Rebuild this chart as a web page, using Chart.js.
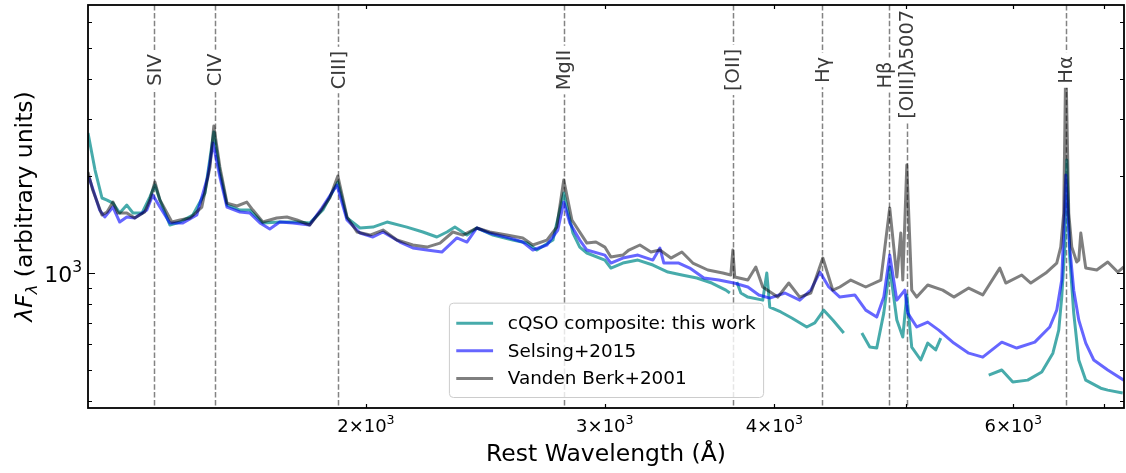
<!DOCTYPE html>
<html><head><meta charset="utf-8">
<script src="https://cdn.jsdelivr.net/npm/chart.js@4.4.1/dist/chart.umd.min.js"></script>
<style>html,body{margin:0;padding:0;background:#fff;}canvas{display:block;}</style>
</head><body>
<canvas id="c" width="1126" height="473"></canvas>
<script>
// ---- data (rest wavelength in Å, lambda*F_lambda in arbitrary units) ----
const cqsoWave = [1248,1263,1278,1289,1302,1317,1333,1347,1368,1386,1398,1410,1434,1459,1491,1522,1545,1561,1580,1615,1642,1679,1728,1779,1818,1859,1907,1937,1980,2024,2073,2144,2203,2256,2295,2326,2374,2414,2481,2566,2628,2673,2747,2798,2842,2875,2910,3000,3031,3093,3173,3255,3339,3419,3507,3597,3684,3709,3730,3753,3779,3824,3922,3949,3969,4044,4120,4226,4284,4350,4417,4500,4570,4640,4703,4759,4816,4865,4924,4974,5008,5050,5128,5189,5260,5305,5500,5755,5884,5995,6149,6297,6417,6481,6514,6548,6570,6603,6648,6705,6785,6960,7043,7224];
const cqsoFlux = [2721,2088,1710,1685,1649,1536,1626,1536,1536,1722,1876,1685,1410,1440,1514,1772,2741,2059,1626,1569,1569,1430,1440,1440,1430,1569,1917,1482,1380,1389,1440,1389,1341,1294,1341,1389,1312,1380,1312,1266,1239,1179,1266,1772,1331,1204,1154,1097,1036,1074,1097,1059,1007,986,965,931,885,867,null,938,867,842,824,1000,784,757,725,680,700,767,715,651,null,651,589,585,751,1044,715,633,855,589,537,606,577,628,null,482,500,459,465,493,564,665,842,1204,2243,1121,751,537,465,439,433,424];

const selsingWave = [1248,1252,1273,1284,1302,1317,1333,1351,1379,1393,1410,1434,1466,1501,1529,1543,1561,1580,1615,1642,1671,1699,1728,1767,1818,1856,1904,1937,1980,2024,2059,2119,2166,2218,2275,2334,2374,2414,2468,2553,2610,2655,2719,2770,2798,2827,2875,2910,3000,3031,3093,3173,3255,3294,3316,3401,3465,3549,3640,3734,3824,3896,3969,4072,4176,4255,4321,4387,4470,4585,4671,4759,4816,4865,4924,4991,5016,5093,5189,5287,5424,5563,5697,5884,6035,6223,6383,6459,6514,6536,6559,6603,6648,6705,6785,6878,7043,7237];
const selsingFlux = [2001,1945,1569,1493,1603,1440,1493,1482,1569,1747,1603,1430,1430,1514,1987,2533,1987,1603,1547,1536,1430,1370,1440,1430,1410,1592,1876,1461,1331,1294,1341,1248,1196,1179,1162,1285,1248,1380,1331,1285,1248,1179,1222,1360,1661,1430,1266,1179,1137,1074,1113,1137,1097,1196,1074,1074,1036,965,951,931,905,855,836,867,824,885,1007,905,842,855,767,730,842,1137,824,885,751,680,704,665,606,564,548,610,585,610,680,767,951,1360,2015,1204,885,715,606,537,500,465];

const vdbWave = [1248,1258,1278,1289,1302,1313,1333,1351,1374,1386,1398,1410,1439,1459,1484,1514,1535,1545,1561,1580,1607,1634,1651,1679,1719,1749,1779,1818,1850,1881,1907,1937,1970,2014,2059,2108,2166,2218,2268,2318,2358,2414,2468,2540,2610,2655,2719,2765,2798,2837,2910,2955,3000,3031,3093,3125,3184,3244,3294,3356,3419,3483,3573,3665,3715,3728,3740,3824,3876,3922,4023,4099,4176,4255,4343,4417,4470,4554,4671,4792,4865,4924,4957,4974,5008,5050,5093,5189,5323,5424,5563,5697,5864,5924,6087,6181,6340,6459,6503,6536,6559,6592,6626,6682,6705,6728,6785,6913,7043,7163,7237];
const vdbFlux = [2059,1810,1514,1547,1661,1536,1536,1482,1547,1685,1917,1685,1440,1461,1482,1603,2134,2860,2134,1649,1615,1661,1569,1440,1482,1493,1461,1410,1547,1710,2001,1493,1341,1312,1360,1266,1222,1204,1239,1341,1312,1380,1341,1312,1285,1222,1266,1389,1945,1461,1239,1248,1204,1121,1137,1179,1222,1162,1179,1113,1162,1074,1022,1000,986,1179,972,951,1044,905,842,931,842,867,1113,885,905,951,905,951,1592,972,1331,951,2165,885,842,918,885,842,898,855,1036,931,986,931,1000,1074,1204,1536,4652,1536,1204,1082,1097,1331,1036,1022,1082,1007,1044];

const seriesNames = ['cQSO composite: this work','Selsing+2015','Vanden Berk+2001'];

const lineWaves = [1397,1549,1909,2798,3727,4340,4861,5007,6563];
const lineNames = ['SIV','CIV','CIII]','MgII','[OII]','Hγ','Hβ','[OIII]λ5007','Hα'];
const labelWaves = [1397,1549,1909,2798,3727,4340,4825,5007,6563];
const labelFlux  = [4270,4270,4270,4270,4270,4270,4120,4450,4270];

const xTicks = [2000,3000,4000,5000,6000,7000];
const xTickLabels = ['2','3','4','','6',''];
const yTicks = [400,500,600,700,800,900,1000,2000,3000,4000,5000,6000];
const yMajor = [1000];
const xMin = 1248, xMax = 7240, yMin = 381, yMax = 6797;

// ---- styles ----
const FONT = "'DejaVu Sans', 'Liberation Sans', sans-serif";
const colors = ['rgba(0,139,139,0.72)','rgba(0,0,255,0.6)','rgba(0,0,0,0.5)'];

function pts(w, f){ return w.map((x,i)=>({x:x, y:f[i]})); }

const overlay = {
  id:'overlay',
  beforeDatasetsDraw(chart){
    const {ctx, chartArea:a, scales:{x,y}} = chart;
    ctx.save();
    ctx.beginPath(); ctx.rect(a.left,a.top,a.right-a.left,a.bottom-a.top); ctx.clip();
    ctx.strokeStyle = 'rgba(90,90,90,0.75)';
    ctx.lineWidth = 1.5;
    ctx.setLineDash([5.5,2.4]);
    lineWaves.forEach(w=>{
      const px = Math.round(x.getPixelForValue(w))+0.5;
      ctx.beginPath(); ctx.moveTo(px,a.top); ctx.lineTo(px,a.bottom); ctx.stroke();
    });
    ctx.restore();
  },
  afterDatasetsDraw(chart){
    const {ctx, scales:{x,y}} = chart;
    ctx.save();
    const fs = 19.5;
    ctx.font = fs+"px " + FONT;
    lineNames.forEach((n,i)=>{
      const px = x.getPixelForValue(labelWaves[i]);
      const py = y.getPixelForValue(labelFlux[i]);
      ctx.save();
      ctx.translate(px,py); ctx.rotate(-Math.PI/2);
      const w = ctx.measureText(n).width;
      ctx.fillStyle = '#fff';
      ctx.fillRect(-w/2-4,-fs/2-2,w+8,fs+4);
      ctx.fillStyle = '#3a3a3a';
      ctx.textAlign='center'; ctx.textBaseline='middle';
      ctx.fillText(n,0,1);
      ctx.restore();
    });
    ctx.restore();
  },
  afterDraw(chart){
    const {ctx, chartArea:a, scales:{x,y}} = chart;
    ctx.save();
    // inward ticks
    ctx.strokeStyle='#000'; ctx.lineWidth=1.2;
    xTicks.forEach(v=>{
      const px = Math.round(x.getPixelForValue(v))+0.5;
      ctx.beginPath();
      ctx.moveTo(px,a.bottom); ctx.lineTo(px,a.bottom-4);
      ctx.moveTo(px,a.top); ctx.lineTo(px,a.top+4);
      ctx.stroke();
    });
    yTicks.forEach(v=>{
      const py = Math.round(y.getPixelForValue(v))+0.5;
      const L = yMajor.includes(v) ? 7 : 4;
      ctx.beginPath();
      ctx.moveTo(a.left,py); ctx.lineTo(a.left+L,py);
      ctx.moveTo(a.right,py); ctx.lineTo(a.right-L,py);
      ctx.stroke();
    });
    // frame
    ctx.lineWidth=1.8; ctx.strokeStyle='#000';
    ctx.strokeRect(a.left,a.top,a.right-a.left,a.bottom-a.top);
    // x tick labels (mathtext-like)
    ctx.fillStyle='#000';
    xTicks.forEach((v,i)=>{
      const lab = xTickLabels[i]; if(!lab) return;
      const px = x.getPixelForValue(v);
      const base = lab + '\u00d710';
      ctx.font = "18px " + FONT;
      const w1 = ctx.measureText(base).width;
      ctx.font = "12.6px " + FONT;
      const w2 = ctx.measureText('3').width;
      const sx = px - (w1+w2)/2;
      ctx.textAlign='left'; ctx.textBaseline='alphabetic';
      ctx.font = "18px " + FONT;
      ctx.fillText(base, sx, a.bottom+24);
      ctx.font = "12.6px " + FONT;
      ctx.fillText('3', sx+w1, a.bottom+16);
    });
    // y tick label
    yMajor.forEach(v=>{
      const py = y.getPixelForValue(v);
      ctx.font = "15.5px " + FONT;
      const w2 = ctx.measureText('3').width;
      ctx.textAlign='right'; ctx.textBaseline='alphabetic';
      ctx.fillText('3', a.left-6, py-1);
      ctx.font = "22px " + FONT;
      ctx.fillText('10', a.left-6-w2, py+9);
    });
    // x title
    ctx.font = "23.5px " + FONT; ctx.textAlign='center'; ctx.textBaseline='alphabetic';
    ctx.fillText('Rest Wavelength (Å)', (a.left+a.right)/2, 461);
    // y title
    ctx.save();
    ctx.translate(32,(a.top+a.bottom)/2); ctx.rotate(-Math.PI/2);
    const fs=23.5;
    const parts=[['λF','italic '+fs+'px '+FONT,0],['λ','italic '+(fs*0.7)+'px '+FONT,fs*0.22],[' (arbitrary units)',fs+'px '+FONT,0]];
    let tot=0; parts.forEach(p=>{ctx.font=p[1]; p.push(ctx.measureText(p[0]).width); tot+=p[3];});
    let cx=-tot/2; ctx.textAlign='left'; ctx.textBaseline='alphabetic';
    parts.forEach(p=>{ctx.font=p[1]; ctx.fillText(p[0],cx,p[2]); cx+=p[3];});
    ctx.restore();
    // legend (matplotlib-like, lower center)
    const lfs=18.4;
    ctx.font = lfs+'px '+FONT;
    const ds = chart.data.datasets;
    const tw = Math.max(...ds.map(d=>ctx.measureText(d.label).width));
    const bp=0.4*lfs, hl=2*lfs, htp=0.8*lfs, ls=0.5*lfs;
    const W = bp*2+hl+htp+tw;
    const H = bp*2 + ds.length*lfs + (ds.length-1)*ls + 6;
    const lx = (a.left+a.right)/2 - W/2;
    const ly = a.bottom - 11 - H;
    ctx.fillStyle='rgba(255,255,255,0.8)';
    ctx.strokeStyle='#cccccc'; ctx.lineWidth=1;
    ctx.beginPath(); ctx.roundRect(lx+0.5,ly+0.5,W,H,4); ctx.fill(); ctx.stroke();
    ds.forEach((d,i)=>{
      const cy = ly + bp + 3 + lfs/2 + i*(lfs+ls) + 1;
      ctx.strokeStyle=d.borderColor; ctx.lineWidth=3; ctx.setLineDash([]);
      ctx.beginPath(); ctx.moveTo(lx+bp,cy); ctx.lineTo(lx+bp+hl,cy); ctx.stroke();
      ctx.fillStyle='#000'; ctx.textAlign='left'; ctx.textBaseline='middle';
      ctx.fillText(d.label, lx+bp+hl+htp, cy+1);
    });
    ctx.restore();
  }
};

new Chart(document.getElementById('c'), {
  type:'line',
  data:{ datasets:[
    {label:seriesNames[0], data:pts(cqsoWave,cqsoFlux), borderColor:colors[0], borderWidth:3, order:3},
    {label:seriesNames[1], data:pts(selsingWave,selsingFlux), borderColor:colors[1], borderWidth:3, order:2},
    {label:seriesNames[2], data:pts(vdbWave,vdbFlux), borderColor:colors[2], borderWidth:3, order:1}
  ]},
  options:{
    responsive:false, animation:false, devicePixelRatio:1,
    spanGaps:false,
    elements:{point:{radius:0}, line:{tension:0, borderJoinStyle:'round', borderCapStyle:'butt'}},
    layout:{padding:{top:5,right:2,left:0,bottom:0}},
    plugins:{legend:{display:false}, tooltip:{enabled:false}},
    scales:{
      x:{type:'logarithmic', min:xMin, max:xMax,
         grid:{display:false, drawTicks:false}, border:{display:false},
         afterBuildTicks:(s)=>{ s.ticks = xTicks.map(v=>({value:v})); },
         ticks:{display:false},
         afterFit:(s)=>{ s.height = 65; }},
      y:{type:'logarithmic', min:yMin, max:yMax,
         grid:{display:false, drawTicks:false}, border:{display:false},
         afterBuildTicks:(s)=>{ s.ticks = yTicks.map(v=>({value:v})); },
         ticks:{display:false},
         afterFit:(s)=>{ s.width = 88; }}
    }
  },
  plugins:[overlay]
});
</script>
</body></html>
